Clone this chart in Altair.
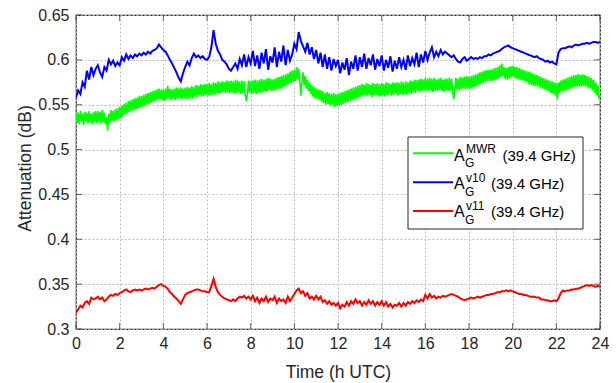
import altair as alt
import pandas as pd

# ---------------- data ----------------
hours = [round(i * 0.1, 1) for i in range(241)]          # v10 / v11 sampling
hours_mwr = [round(i * 0.05, 2) for i in range(481)]     # MWR sampling (denser)

mwr = [
    0.542, 0.530, 0.541, 0.528, 0.543, 0.531, 0.540, 0.527, 0.542, 0.532, 0.541, 0.529, 0.543, 0.530, 0.540, 0.528, 0.542, 0.531, 0.543, 0.529,
    0.543, 0.531, 0.542, 0.529, 0.544, 0.530, 0.541, 0.528, 0.536, 0.521, 0.540, 0.530, 0.544, 0.532, 0.543, 0.531, 0.545, 0.533, 0.546, 0.534,
    0.548, 0.535, 0.549, 0.537, 0.551, 0.539, 0.552, 0.540, 0.554, 0.542, 0.555, 0.543, 0.556, 0.544, 0.557, 0.545, 0.558, 0.546, 0.560, 0.547,
    0.560, 0.548, 0.561, 0.549, 0.562, 0.550, 0.563, 0.551, 0.564, 0.552, 0.565, 0.553, 0.566, 0.554, 0.567, 0.555, 0.568, 0.556, 0.567, 0.555,
    0.567, 0.554, 0.568, 0.556, 0.571, 0.558, 0.568, 0.555, 0.567, 0.556, 0.568, 0.555, 0.569, 0.556, 0.568, 0.557, 0.569, 0.556, 0.568, 0.557,
    0.569, 0.557, 0.570, 0.556, 0.569, 0.558, 0.571, 0.557, 0.570, 0.559, 0.572, 0.558, 0.571, 0.560, 0.573, 0.559, 0.572, 0.560, 0.573, 0.561,
    0.573, 0.560, 0.574, 0.561, 0.573, 0.562, 0.575, 0.561, 0.574, 0.563, 0.576, 0.562, 0.575, 0.563, 0.576, 0.564, 0.575, 0.563, 0.577, 0.564,
    0.576, 0.563, 0.577, 0.564, 0.576, 0.562, 0.578, 0.563, 0.577, 0.564, 0.576, 0.562, 0.577, 0.563, 0.576, 0.561, 0.554, 0.562, 0.577, 0.563,
    0.576, 0.562, 0.577, 0.563, 0.578, 0.562, 0.577, 0.564, 0.578, 0.563, 0.579, 0.564, 0.578, 0.565, 0.579, 0.564, 0.580, 0.566, 0.579, 0.565,
    0.578, 0.565, 0.579, 0.566, 0.580, 0.567, 0.581, 0.568, 0.582, 0.569, 0.583, 0.570, 0.584, 0.572, 0.585, 0.573, 0.587, 0.574, 0.588, 0.575,
    0.589, 0.576, 0.592, 0.578, 0.590, 0.577, 0.560, 0.575, 0.586, 0.572, 0.582, 0.568, 0.578, 0.565, 0.575, 0.562, 0.572, 0.559, 0.570, 0.557,
    0.568, 0.556, 0.567, 0.555, 0.566, 0.553, 0.565, 0.552, 0.563, 0.550, 0.564, 0.551, 0.563, 0.549, 0.562, 0.550, 0.563, 0.547, 0.562, 0.549,
    0.562, 0.549, 0.563, 0.550, 0.564, 0.551, 0.565, 0.552, 0.566, 0.553, 0.567, 0.554, 0.568, 0.555, 0.569, 0.556, 0.570, 0.557, 0.571, 0.558,
    0.572, 0.559, 0.573, 0.560, 0.572, 0.559, 0.574, 0.560, 0.573, 0.561, 0.572, 0.558, 0.574, 0.560, 0.573, 0.561, 0.574, 0.559, 0.573, 0.560,
    0.574, 0.561, 0.573, 0.559, 0.575, 0.560, 0.574, 0.561, 0.573, 0.560, 0.575, 0.561, 0.574, 0.562, 0.575, 0.560, 0.574, 0.562, 0.576, 0.561,
    0.575, 0.562, 0.576, 0.561, 0.575, 0.563, 0.577, 0.562, 0.576, 0.564, 0.578, 0.563, 0.577, 0.565, 0.578, 0.564, 0.579, 0.565, 0.578, 0.566,
    0.580, 0.566, 0.579, 0.565, 0.580, 0.566, 0.579, 0.564, 0.580, 0.566, 0.578, 0.565, 0.579, 0.566, 0.580, 0.565, 0.578, 0.564, 0.579, 0.566,
    0.579, 0.565, 0.580, 0.566, 0.579, 0.565, 0.556, 0.566, 0.580, 0.567, 0.579, 0.566, 0.581, 0.567, 0.580, 0.568, 0.581, 0.567, 0.582, 0.568,
    0.581, 0.568, 0.582, 0.569, 0.583, 0.570, 0.584, 0.571, 0.585, 0.572, 0.586, 0.573, 0.587, 0.574, 0.588, 0.575, 0.589, 0.576, 0.589, 0.576,
    0.589, 0.576, 0.590, 0.577, 0.591, 0.578, 0.592, 0.580, 0.594, 0.581, 0.596, 0.582, 0.592, 0.579, 0.591, 0.578, 0.592, 0.579, 0.593, 0.580,
    0.593, 0.580, 0.592, 0.579, 0.592, 0.578, 0.591, 0.578, 0.590, 0.577, 0.589, 0.576, 0.588, 0.575, 0.587, 0.573, 0.586, 0.572, 0.585, 0.571,
    0.584, 0.571, 0.583, 0.570, 0.582, 0.569, 0.581, 0.568, 0.580, 0.567, 0.579, 0.566, 0.578, 0.565, 0.577, 0.563, 0.576, 0.562, 0.575, 0.560,
    0.574, 0.556, 0.575, 0.563, 0.577, 0.564, 0.578, 0.565, 0.579, 0.566, 0.580, 0.567, 0.581, 0.568, 0.582, 0.569, 0.583, 0.570, 0.583, 0.570,
    0.584, 0.571, 0.583, 0.570, 0.584, 0.571, 0.583, 0.570, 0.582, 0.569, 0.581, 0.568, 0.580, 0.566, 0.578, 0.563, 0.575, 0.560, 0.572, 0.557,
    0.560,
]

v10 = [
    0.558, 0.566, 0.562, 0.575, 0.570, 0.588, 0.578, 0.592, 0.583, 0.590,
    0.594, 0.586, 0.581, 0.592, 0.588, 0.600, 0.595, 0.599, 0.593, 0.597,
    0.594, 0.603, 0.599, 0.606, 0.601, 0.605, 0.602, 0.606, 0.604, 0.607,
    0.605, 0.608, 0.606, 0.609, 0.607, 0.610, 0.611, 0.613, 0.617, 0.614,
    0.611, 0.609, 0.605, 0.600, 0.596, 0.591, 0.586, 0.580, 0.576, 0.585,
    0.592, 0.598, 0.594, 0.602, 0.607, 0.603, 0.605, 0.602, 0.604, 0.601,
    0.600, 0.603, 0.614, 0.633, 0.618, 0.610, 0.606, 0.600, 0.598, 0.595,
    0.590, 0.588, 0.592, 0.596, 0.590, 0.601, 0.594, 0.606, 0.592, 0.603,
    0.596, 0.610, 0.593, 0.605, 0.590, 0.608, 0.596, 0.612, 0.589, 0.604,
    0.597, 0.614, 0.592, 0.609, 0.598, 0.616, 0.594, 0.611, 0.599, 0.606,
    0.618, 0.612, 0.631, 0.621, 0.615, 0.609, 0.619, 0.606, 0.614, 0.601,
    0.611, 0.596, 0.608, 0.592, 0.606, 0.590, 0.603, 0.588, 0.601, 0.593,
    0.600, 0.585, 0.597, 0.589, 0.602, 0.583, 0.598, 0.590, 0.605, 0.588,
    0.603, 0.592, 0.607, 0.590, 0.602, 0.594, 0.606, 0.589, 0.601, 0.593,
    0.605, 0.588, 0.600, 0.591, 0.604, 0.587, 0.599, 0.590, 0.603, 0.592,
    0.600, 0.589, 0.605, 0.593, 0.602, 0.595, 0.608, 0.592, 0.606, 0.597,
    0.610, 0.600, 0.608, 0.614, 0.603, 0.609, 0.604, 0.611, 0.606, 0.609,
    0.607, 0.605, 0.603, 0.605, 0.601, 0.598, 0.597, 0.601, 0.603, 0.599,
    0.601, 0.603, 0.601, 0.602, 0.601, 0.603, 0.602, 0.604, 0.604, 0.606,
    0.605, 0.607, 0.608, 0.609, 0.610, 0.612, 0.614, 0.615, 0.616, 0.614,
    0.613, 0.612, 0.611, 0.610, 0.609, 0.608, 0.607, 0.606, 0.605, 0.604,
    0.603, 0.604, 0.602, 0.601, 0.600, 0.598, 0.599, 0.597, 0.598, 0.596,
    0.595, 0.608, 0.612, 0.613, 0.613, 0.614, 0.615, 0.614, 0.616, 0.617,
    0.616, 0.617, 0.618, 0.618, 0.619, 0.618, 0.619, 0.620, 0.620, 0.619,
    0.620,
]

v11 = [
    0.318, 0.322, 0.326, 0.324, 0.329, 0.331, 0.328, 0.335, 0.333, 0.334,
    0.336, 0.333, 0.335, 0.331, 0.333, 0.336, 0.338, 0.337, 0.339, 0.338,
    0.340, 0.341, 0.343, 0.344, 0.342, 0.341, 0.343, 0.344, 0.343, 0.344,
    0.343, 0.344, 0.345, 0.344, 0.345, 0.346, 0.345, 0.347, 0.349, 0.350,
    0.348, 0.347, 0.345, 0.341, 0.339, 0.336, 0.334, 0.331, 0.328, 0.333,
    0.338, 0.340, 0.341, 0.342, 0.343, 0.344, 0.344, 0.343, 0.342, 0.342,
    0.341, 0.341, 0.348, 0.356, 0.347, 0.341, 0.338, 0.336, 0.334, 0.333,
    0.332, 0.331, 0.333, 0.331, 0.334, 0.336, 0.335, 0.337, 0.334, 0.336,
    0.333, 0.337, 0.331, 0.335, 0.329, 0.334, 0.331, 0.336, 0.330, 0.334,
    0.332, 0.336, 0.329, 0.334, 0.331, 0.333, 0.329, 0.336, 0.331, 0.335,
    0.339, 0.343, 0.345, 0.340, 0.342, 0.337, 0.340, 0.334, 0.336, 0.333,
    0.337, 0.333, 0.336, 0.330, 0.332, 0.328, 0.331, 0.327, 0.329, 0.326,
    0.329, 0.323, 0.327, 0.325, 0.330, 0.326, 0.331, 0.328, 0.333, 0.329,
    0.331, 0.326, 0.330, 0.327, 0.332, 0.328, 0.331, 0.326, 0.330, 0.327,
    0.331, 0.326, 0.330, 0.325, 0.328, 0.324, 0.327, 0.326, 0.329, 0.325,
    0.329, 0.326, 0.330, 0.328, 0.331, 0.329, 0.332, 0.330, 0.333, 0.331,
    0.338, 0.334, 0.339, 0.335, 0.337, 0.334, 0.336, 0.335, 0.337, 0.336,
    0.337, 0.338, 0.339, 0.338, 0.337, 0.336, 0.334, 0.333, 0.332, 0.333,
    0.334, 0.335, 0.334, 0.335, 0.336, 0.335, 0.336, 0.337, 0.338, 0.338,
    0.339, 0.339, 0.340, 0.341, 0.341, 0.342, 0.342, 0.343, 0.342, 0.343,
    0.342, 0.341, 0.340, 0.339, 0.339, 0.338, 0.338, 0.337, 0.336, 0.336,
    0.336, 0.335, 0.335, 0.333, 0.333, 0.332, 0.332, 0.331, 0.331, 0.332,
    0.331, 0.334, 0.340, 0.343, 0.342, 0.343, 0.343, 0.344, 0.344, 0.345,
    0.345, 0.346, 0.347, 0.348, 0.349, 0.348, 0.349, 0.348, 0.347, 0.348,
    0.347,
]

x_ticks = [0, 2, 4, 6, 8, 10, 12, 14, 16, 18, 20, 22, 24]
y_ticks = [0.3, 0.35, 0.4, 0.45, 0.5, 0.55, 0.6, 0.65]
series_sup = ["MWR", "v10", "v11"]
series_colors = ["#00ff00", "#0000ff", "#ff0000"]
freq_label = "(39.4 GHz)"

assert len(hours) == len(v10) == len(v11) == 241
assert len(hours_mwr) == len(mwr) == 481

# ---------------- styling / layout ----------------
FONT = "Liberation Sans"
W, H = 524, 314
TXT = "#262626"

x_enc = alt.X(
    "t:Q",
    scale=alt.Scale(domain=[0, 24], nice=False),
    axis=alt.Axis(
        values=x_ticks, title="Time (h UTC)", format="d",
        ticks=False, tickSize=0, domain=False, labelPadding=6,
        labelFontSize=16, labelFont=FONT, labelColor=TXT, labelFlush=False,
        titleFont=FONT, titleFontSize=17.5, titleFontWeight="normal", titleColor=TXT,
        titleBaseline="alphabetic", titleY=48,
        grid=True, gridDash=[2, 2], gridColor="#bdbdbd", gridWidth=1,
    ),
)
y_enc = alt.Y(
    "v:Q",
    scale=alt.Scale(domain=[0.3, 0.65], nice=False, zero=False),
    axis=alt.Axis(
        values=y_ticks, title="Attenuation (dB)", format="~g",
        ticks=False, tickSize=0, domain=False, labelPadding=7,
        labelFontSize=16, labelFont=FONT, labelColor=TXT, labelFlush=False,
        titleFont=FONT, titleFontSize=17.5, titleFontWeight="normal", titleColor=TXT,
        titleBaseline="alphabetic", titleX=-46, titleY=153,
        grid=True, gridDash=[2, 2], gridColor="#bdbdbd", gridWidth=1,
    ),
)


def series_layer(times, vals, color, width):
    df = pd.DataFrame({"t": times, "v": vals})
    return alt.Chart(df).mark_line(color=color, strokeWidth=width, clip=True).encode(x=x_enc, y=y_enc)


lines = [
    series_layer(hours_mwr, mwr, series_colors[0], 1.6),
    series_layer(hours, v10, series_colors[1], 2),
    series_layer(hours, v11, series_colors[2], 2),
]

xt = pd.DataFrame({"t": x_ticks})
yt = pd.DataFrame({"v": y_ticks})
TL = 6
ticks = [
    alt.Chart(xt).mark_tick(orient="vertical", size=TL, thickness=1, color=TXT).encode(x=x_enc, y=alt.value(H - TL / 2)),
    alt.Chart(xt).mark_tick(orient="vertical", size=TL, thickness=1, color=TXT).encode(x=x_enc, y=alt.value(TL / 2)),
    alt.Chart(yt).mark_tick(orient="horizontal", size=TL, thickness=1, color=TXT).encode(y=y_enc, x=alt.value(TL / 2)),
    alt.Chart(yt).mark_tick(orient="horizontal", size=TL, thickness=1, color=TXT).encode(y=y_enc, x=alt.value(W - TL / 2)),
]

one = pd.DataFrame({"a": [0]})
legend = [
    alt.Chart(one).mark_rect(fill="white", stroke=TXT, strokeWidth=1).encode(
        x=alt.value(332), x2=alt.value(507), y=alt.value(122), y2=alt.value(214)
    )
]
row_line_y = [138.3, 167.3, 196.0]
row_base = [145.7, 174.3, 202.3]
text_x = [426.5, 415.0, 415.0]
for i in range(3):
    yb = row_base[i]
    legend.append(
        alt.Chart(one).mark_rule(color=series_colors[i], strokeWidth=2).encode(
            x=alt.value(337), x2=alt.value(377), y=alt.value(row_line_y[i])
        )
    )
    legend.append(
        alt.Chart(one).mark_text(align="left", baseline="alphabetic", font=FONT, fontSize=16, color="black").encode(
            x=alt.value(378), y=alt.value(yb), text=alt.value("A")
        )
    )
    legend.append(
        alt.Chart(one).mark_text(align="left", baseline="alphabetic", font=FONT, fontSize=12, color="black").encode(
            x=alt.value(389), y=alt.value(yb + 6.7), text=alt.value("G")
        )
    )
    legend.append(
        alt.Chart(one).mark_text(align="left", baseline="alphabetic", font=FONT, fontSize=12, color="black").encode(
            x=alt.value(390), y=alt.value(yb - 7.5), text=alt.value(series_sup[i])
        )
    )
    legend.append(
        alt.Chart(one).mark_text(align="left", baseline="alphabetic", font=FONT, fontSize=15, color="black").encode(
            x=alt.value(text_x[i]), y=alt.value(yb), text=alt.value(freq_label)
        )
    )

chart = alt.layer(*lines, *ticks, *legend).properties(
    width=W,
    height=H,
    padding={"left": 76, "top": 15, "right": 16, "bottom": 54},
    autosize=alt.AutoSizeParams(type="none"),
    background="white",
).configure_view(stroke=TXT, strokeWidth=1.2)

chart.save("out.html", embed_options={"renderer": "svg", "actions": False})
